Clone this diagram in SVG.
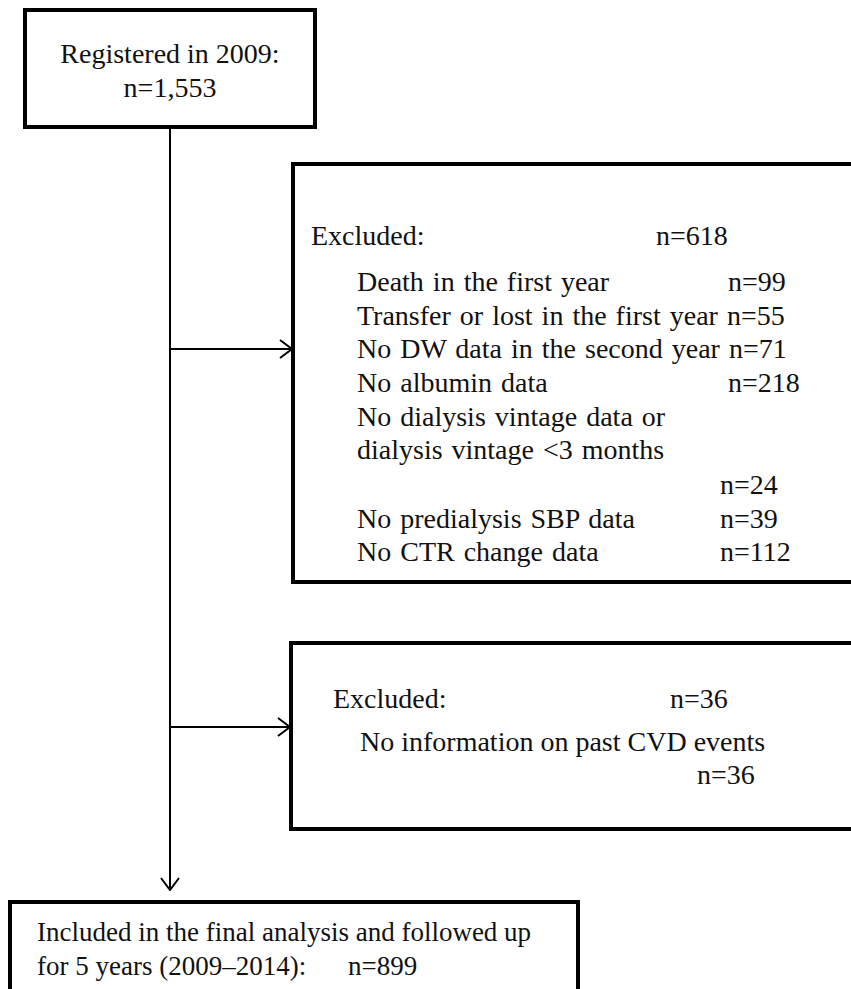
<svg xmlns="http://www.w3.org/2000/svg" width="851" height="989" viewBox="0 0 851 989">
<style>
.box{fill:#fff;stroke:#000;stroke-width:4}
.t{font-family:"Liberation Serif","Times New Roman",serif;fill:#111;font-size:28px}
.s27{font-size:27px}
.ws{word-spacing:2px}
.ln{stroke:#000;stroke-width:2;fill:none}
</style>
<defs>
<marker id="arr" markerWidth="14" markerHeight="20" refX="13" refY="10" orient="auto" markerUnits="userSpaceOnUse">
<path d="M1,1 L13,10 L1,19" fill="none" stroke="#000" stroke-width="2"/>
</marker>
</defs>
<rect width="851" height="989" fill="#fff"/>
<g id="connectors">
<line class="ln" x1="170" y1="127" x2="170" y2="890" marker-end="url(#arr)"/>
<line class="ln" x1="170" y1="349" x2="292" y2="349" marker-end="url(#arr)"/>
<line class="ln" x1="170" y1="727" x2="290" y2="727" marker-end="url(#arr)"/>
</g>
<g id="registered">
<rect class="box" x="25" y="10" width="290" height="117"/>
<text class="t" x="170" y="63" text-anchor="middle">Registered in 2009:</text>
<text class="t" x="170" y="97" text-anchor="middle">n=1,553</text>
</g>
<g id="excluded1">
<rect class="box" x="293" y="164" width="570" height="418"/>
<text class="t" x="311" y="245">Excluded:</text>
<text class="t" x="656" y="245">n=618</text>
<text class="t ws" x="357" y="291">Death in the first year</text>
<text class="t" x="728" y="291">n=99</text>
<text class="t ws" x="357" y="325">Transfer or lost in the first year n=55</text>
<text class="t ws" x="357" y="358">No DW data in the second year n=71</text>
<text class="t ws" x="357" y="392">No albumin data</text>
<text class="t" x="728" y="392">n=218</text>
<text class="t ws" x="357" y="426">No dialysis vintage data or</text>
<text class="t ws" x="357" y="459">dialysis vintage &lt;3 months</text>
<text class="t" x="720" y="494">n=24</text>
<text class="t ws" x="357" y="528">No predialysis SBP data</text>
<text class="t" x="720" y="528">n=39</text>
<text class="t ws" x="357" y="561">No CTR change data</text>
<text class="t" x="720" y="561">n=112</text>
</g>
<g id="excluded2">
<rect class="box" x="291" y="643" width="572" height="186"/>
<text class="t" x="333" y="708">Excluded:</text>
<text class="t" x="670" y="708">n=36</text>
<text class="t" x="360" y="751">No information on past CVD events</text>
<text class="t" x="697" y="784">n=36</text>
</g>
<g id="included">
<rect class="box" x="10" y="902" width="568" height="100"/>
<text class="t s27" x="37" y="941">Included in the final analysis and followed up</text>
<text class="t s27" x="37" y="975">for 5 years (2009–2014):</text>
<text class="t s27" x="348" y="975">n=899</text>
</g>
</svg>
